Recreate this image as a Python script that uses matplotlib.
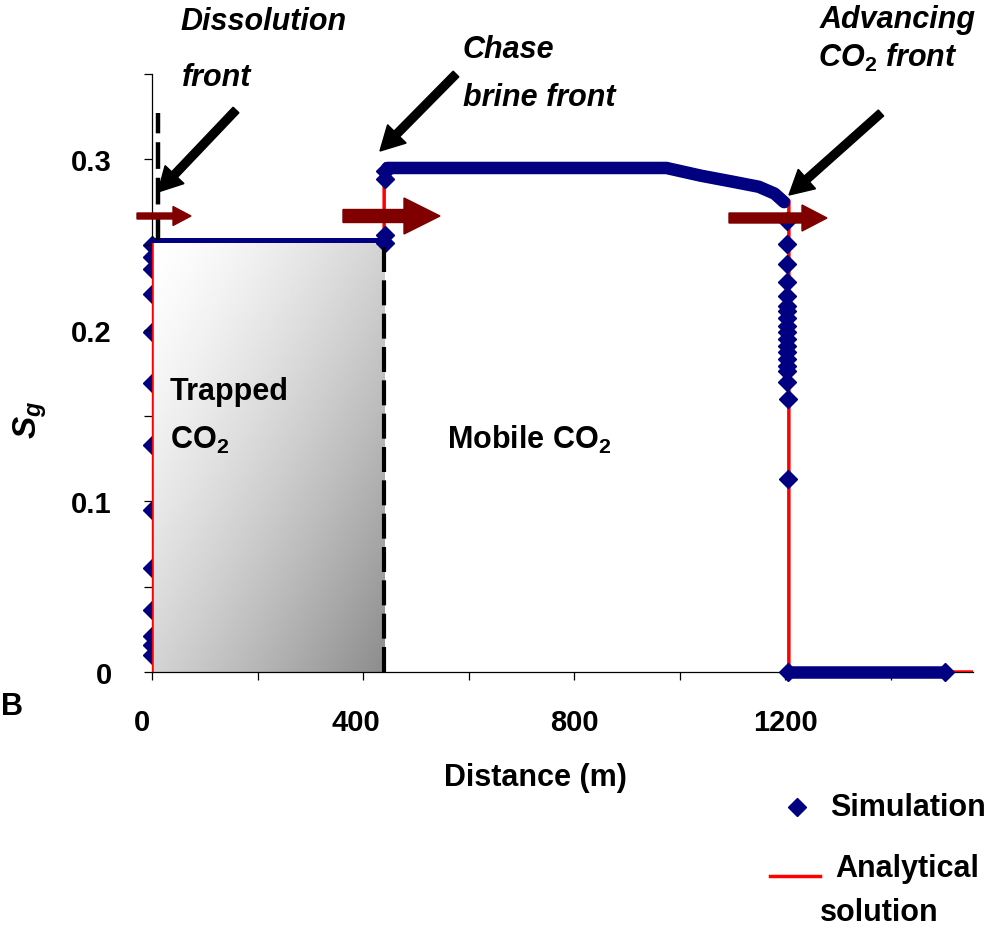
import numpy as np
import matplotlib
matplotlib.use("Agg")
import matplotlib.pyplot as plt
from matplotlib.patches import FancyArrow
from matplotlib.lines import Line2D
from matplotlib.transforms import IdentityTransform, ScaledTranslation

plt.rcParams['font.family'] = ['Liberation Sans', 'DejaVu Sans']
plt.rcParams['font.weight'] = 'bold'
plt.rcParams['mathtext.fontset'] = 'custom'
plt.rcParams['mathtext.rm'] = 'Liberation Sans:bold'
plt.rcParams['mathtext.it'] = 'Liberation Sans:bold:italic'
plt.rcParams['mathtext.bf'] = 'Liberation Sans:bold'

# --- analytical solution (gas saturation vs distance) ---
ana_x = [0, 0, 440, 440, 975, 1040, 1100, 1150, 1185, 1207, 1207, 1556]
ana_s = [0, 0.253, 0.253, 0.295, 0.295, 0.2915, 0.288, 0.284, 0.280, 0.276, 0, 0]

# --- simulation results ---
sim_inlet_s = [0.250, 0.243, 0.236, 0.221, 0.199, 0.169, 0.133,
               0.095, 0.061, 0.036, 0.021, 0.016, 0.010]
sim_trapped_x = [0, 440]
sim_trapped_s = [0.253, 0.253]
sim_chase_x = [441, 441, 441, 441]
sim_chase_s = [0.293, 0.2885, 0.256, 0.251]
sim_plateau_x = [446, 600, 800, 975, 1040, 1100, 1150, 1180, 1198]
sim_plateau_s = [0.295, 0.295, 0.295, 0.295, 0.2905, 0.287, 0.284, 0.280, 0.275]
sim_drop_x = [1203] * 17 + [1206, 1206]
sim_drop_s = [0.264, 0.2505, 0.239, 0.228, 0.220, 0.214, 0.211, 0.207, 0.2025,
              0.199, 0.195, 0.191, 0.187, 0.183, 0.179, 0.176, 0.170, 0.160, 0.113]
sim_tail_x = [1206, 1503]
sim_tail_s = [0, 0]

trapped_end = 440
trapped_level = 0.253
dissolution_x = 12
dissolution_top = 0.327

W, H = 1005, 929
NAVY = '#000080'
MAROON = '#800000'
FS = 22
MS = 9.5

fig = plt.figure(figsize=(W / 100, H / 100), dpi=100)
ax = fig.add_axes([152 / W, (H - 673) / H, 821 / W, 598 / H])

# inlet points sit underneath the shaded trapped zone
ax.plot(np.zeros(len(sim_inlet_s)), sim_inlet_s, 'D', color=NAVY, ms=MS,
        clip_on=False, zorder=1)

# shaded trapped-CO2 region with diagonal gradient
u, v = np.meshgrid(np.linspace(0, 1, 200), np.linspace(0, 1, 200))
shade = 1.0 - 0.45 * ((u + v) / 2) ** 1.4
ax.imshow(shade, cmap='gray', vmin=0, vmax=1, aspect='auto', interpolation='bilinear',
          extent=[0, trapped_end, 0, trapped_level], origin='upper', zorder=2)

ax.plot(ana_x, ana_s, color='red', lw=2.5, zorder=3)

ax.plot(sim_trapped_x, sim_trapped_s, color=NAVY, lw=3.6, zorder=4)
ax.plot(sim_plateau_x, sim_plateau_s, color=NAVY, lw=9, solid_capstyle='round', zorder=4)
ax.plot(sim_tail_x, sim_tail_s, color=NAVY, lw=9, solid_capstyle='butt', zorder=4, clip_on=False)
ax.plot([sim_tail_x[0], sim_tail_x[-1]], sim_tail_s, 'D', color=NAVY, ms=MS, zorder=4, clip_on=False)
ax.plot(sim_chase_x, sim_chase_s, 'D', color=NAVY, ms=MS, zorder=4)
ax.plot(sim_drop_x, sim_drop_s, 'D', color=NAVY, ms=MS, zorder=4)

# front markers
ax.plot([dissolution_x, dissolution_x], [trapped_level, dissolution_top], color='black',
        lw=3.2, dashes=(6, 2), zorder=5, clip_on=False)
ax.plot([trapped_end, trapped_end], [0, trapped_level], color='black',
        lw=3, dashes=(6, 2), zorder=5)

ax.set_xlim(0, 1556)
ax.set_ylim(0, 0.35)
ax.set_xticks([0, 400, 800, 1200])
ax.set_xticks([200, 600, 1000, 1400], minor=True)
ax.set_yticks([0, 0.1, 0.2, 0.3])
ax.set_yticks([0.05, 0.15, 0.25, 0.35], minor=True)
ax.set_yticklabels(['0', '0.1', '0.2', '0.3'])
ax.tick_params(axis='both', which='both', direction='out', length=6, width=0.9, labelsize=21)
ax.tick_params(axis='y', pad=23)
ax.tick_params(axis='x', pad=20)
# first two distance labels sit a little left of their ticks
for lbl, shift in zip(ax.get_xticklabels()[:2], [-10, -7]):
    lbl.set_transform(lbl.get_transform() + ScaledTranslation(shift / 100, 0, fig.dpi_scale_trans))
for side in ['top', 'right']:
    ax.spines[side].set_visible(False)
for side in ['left', 'bottom']:
    ax.spines[side].set_linewidth(0.9)
ax.patch.set_alpha(0)


def fx(x, y):
    return x / W, 1 - y / H


def label(x, y, s, **kw):
    fig.text(*fx(x, y), s, fontsize=FS, fontweight='bold', va='center', **kw)


ax.set_xlabel('Distance (m)', fontsize=FS, fontweight='bold')
ax.xaxis.set_label_coords(0.4675, -0.15)
fig.text(*fx(30, 420), r'$S_g$', fontsize=FS + 2, rotation=90, ha='center', va='center')

label(180, 22, 'Dissolution', style='italic')
label(182, 78, 'front', style='italic')
label(463, 50, 'Chase', style='italic')
label(463, 98, 'brine front', style='italic')
label(820, 20, 'Advancing', style='italic')
label(818, 58, r'CO$_\mathit{2}$ front', style='italic')
label(170, 392, 'Trapped')
label(170, 440, r'CO$_2$')
label(447, 440, r'Mobile CO$_2$')
label(1, 707, 'B')

# black pointers at the fronts
for (x0, y0), (x1, y1) in [((236, 111), (158, 193)),
                           ((456, 75), (380, 152)),
                           ((881, 114), (789, 196))]:
    fig.add_artist(FancyArrow(x0, H - y0, x1 - x0, y0 - y1, width=8, head_width=26,
                              head_length=24, length_includes_head=True,
                              color='black', transform=IdentityTransform()))

# direction of front movement
for x0, x1, y, w, hw, hl in [(137, 191, 217, 6, 19, 18),
                             (343, 440, 217, 13, 36, 36),
                             (729, 827, 219, 10, 26, 25)]:
    fig.add_artist(FancyArrow(x0, H - y, x1 - x0, 0, width=w, head_width=hw,
                              head_length=hl, length_includes_head=True,
                              color=MAROON, transform=IdentityTransform()))

# legend
fig.add_artist(Line2D([797 / W], [1 - 808 / H], marker='D', color=NAVY, ms=MS,
                      transform=fig.transFigure))
fig.add_artist(Line2D([770 / W, 820 / W], [1 - 877 / H] * 2, color='red', lw=2.5,
                      transform=fig.transFigure))
label(830, 808, 'Simulation')
label(835, 869, 'Analytical')
label(820, 913, 'solution')

fig.savefig('out.png', dpi=100)
